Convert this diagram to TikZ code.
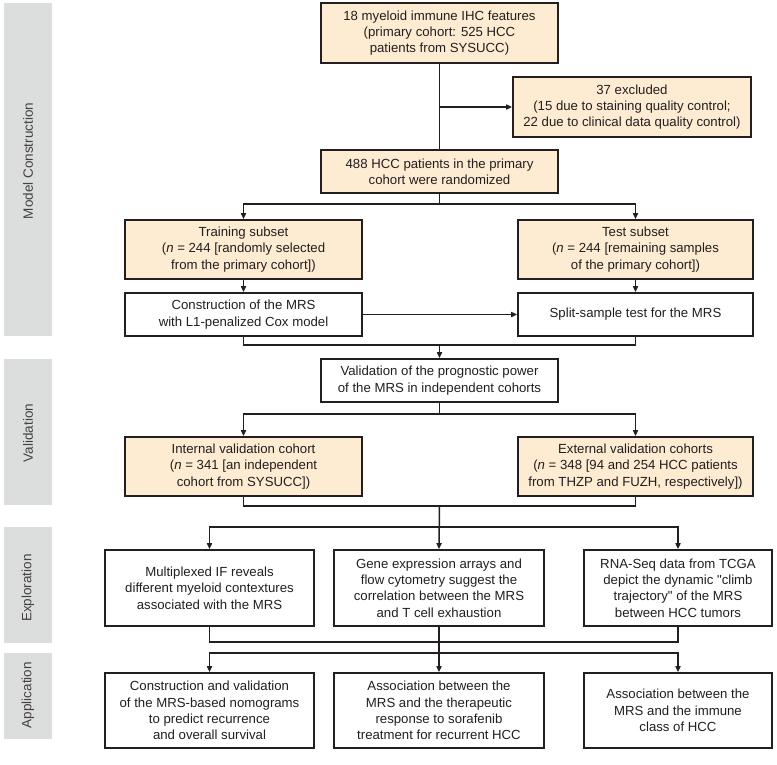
\documentclass[tikz,border=0pt]{standalone}
\usepackage{fontspec}
\setmainfont{Liberation Sans}
\usetikzlibrary{arrows.meta}
\definecolor{peach}{HTML}{FDEBD2}
\definecolor{band}{HTML}{DCDDDD}
\definecolor{ink}{HTML}{231F20}
\begin{document}
\begin{tikzpicture}[x=1pt,y=-1pt,
  box/.style={draw=ink, line width=1.6pt, align=center, inner sep=0pt, text=ink,
    font=\fontsize{13.2}{16.3}\selectfont},
  pbox/.style={box, fill=peach},
  wbox/.style={box, fill=white},
  conn/.style={draw=ink, line width=1.5pt},
  arr/.style={conn, -{Triangle[length=6pt,width=5pt]}},
  bandlabel/.style={rotate=90, text=ink!85, font=\fontsize{13.5}{15}\selectfont}
]
\useasboundingbox (0,0) rectangle (777,764);
% bands
\fill[band] (4,3) rectangle (52,336);
\fill[band] (4,359) rectangle (52,505);
\fill[band] (4,527) rectangle (52,643);
\fill[band] (4,653) rectangle (52,739);
\node[bandlabel] (l1) at (28,161) {Model Construction};
\node[bandlabel] (l2) at (28,433) {Validation};
\node[bandlabel] (l3) at (28,588) {Exploration};
\node[bandlabel] (l4) at (28,695) {Application};
% boxes
\node[pbox, minimum width=237pt, minimum height=60pt] (top) at (439.5,33) {18 myeloid immune IHC features\\(primary cohort: 525 HCC\\patients from SYSUCC)};
\node[pbox, minimum width=238pt, minimum height=60pt] (excl) at (632,107) {37 excluded\\(15 due to staining quality control;\\22 due to clinical data quality control)};
\node[pbox, minimum width=237pt, minimum height=43pt] (rand) at (439.5,171.5) {488 HCC patients in the primary\\cohort were randomized};
\node[pbox, minimum width=237pt, minimum height=59pt] (train) at (243.5,249.5) {Training subset\\(\textit{n} = 244 [randomly selected\\from the primary cohort])};
\node[pbox, minimum width=235pt, minimum height=59pt] (test) at (635.5,249.5) {Test subset\\(\textit{n} = 244 [remaining samples\\of the primary cohort])};
\node[wbox, minimum width=237pt, minimum height=43pt] (cons) at (243.5,314.5) {Construction of the MRS\\with L1-penalized Cox model};
\node[wbox, minimum width=235pt, minimum height=43pt] (split) at (635.5,314.5) {Split-sample test for the MRS};
\node[wbox, minimum width=237pt, minimum height=43pt] (valid) at (439.5,380.5) {Validation of the prognostic power\\of the MRS in independent cohorts};
\node[pbox, minimum width=237pt, minimum height=59pt] (intv) at (243.5,466.5) {Internal validation cohort\\(\textit{n} = 341 [an independent\\cohort from SYSUCC])};
\node[pbox, minimum width=235pt, minimum height=59pt] (extv) at (635.5,466.5) {External validation cohorts\\(\textit{n} = 348 [94 and 254 HCC patients\\from THZP and FUZH, respectively])};
\node[wbox, minimum width=209pt, minimum height=76pt] (e1) at (209.5,588) {Multiplexed IF reveals\\different myeloid contextures\\associated with the MRS};
\node[wbox, minimum width=210pt, minimum height=76pt] (e2) at (439,588) {Gene expression arrays and\\flow cytometry suggest the\\correlation between the MRS\\and T cell exhaustion};
\node[wbox, minimum width=188pt, minimum height=76pt] (e3) at (678,588) {RNA-Seq data from TCGA\\depict the dynamic \textquotedbl climb\\trajectory\textquotedbl{} of the MRS\\between HCC tumors};
\node[wbox, minimum width=209pt, minimum height=75pt] (a1) at (209.5,710.5) {Construction and validation\\of the MRS-based nomograms\\to predict recurrence\\and overall survival};
\node[wbox, minimum width=210pt, minimum height=75pt] (a2) at (439,710.5) {Association between the\\MRS and the therapeutic\\response to sorafenib\\treatment for recurrent HCC};
\node[wbox, minimum width=188pt, minimum height=75pt] (a3) at (678,710.5) {Association between the\\MRS and the immune\\class of HCC};
% junction coordinates
\coordinate (j1) at (439.5,107);
\coordinate (j2) at (439.5,204);
\coordinate (j3) at (439.5,345);
\coordinate (j4) at (439.5,414);
\coordinate (j5) at (439.5,506);
\coordinate (j6) at (439.5,527);
\coordinate (j7) at (439.5,642);
\coordinate (j8) at (439.5,653);
% connectors
\draw[conn] (top.south) -- (rand.north);
\draw[arr] (j1) -- (excl.west);
\draw[conn] (rand.south) -- (j2);
\draw[arr] (j2) -| (train.north);
\draw[arr] (j2) -| (test.north);
\draw[arr] (train.south) -- (cons.north);
\draw[arr] (test.south) -- (split.north);
\draw[arr] (cons.east) -- (split.west);
\draw[conn] (cons.south) |- (j3) -| (split.south);
\draw[arr] (j3) -- (valid.north);
\draw[conn] (valid.south) -- (j4);
\draw[arr] (j4) -| (intv.north);
\draw[arr] (j4) -| (extv.north);
\draw[conn] (intv.south) |- (j5) -| (extv.south);
\draw[arr] (j5) -- (e2.north);
\draw[arr] (j6) -| (e1.north);
\draw[arr] (j6) -| (e3.north);
\draw[conn] (e1.south) |- (j7) -| (e3.south);
\draw[arr] (e2.south) -- (a2.north);
\draw[arr] (j8) -| (a1.north);
\draw[arr] (j8) -| (a3.north);
\end{tikzpicture}
\end{document}
